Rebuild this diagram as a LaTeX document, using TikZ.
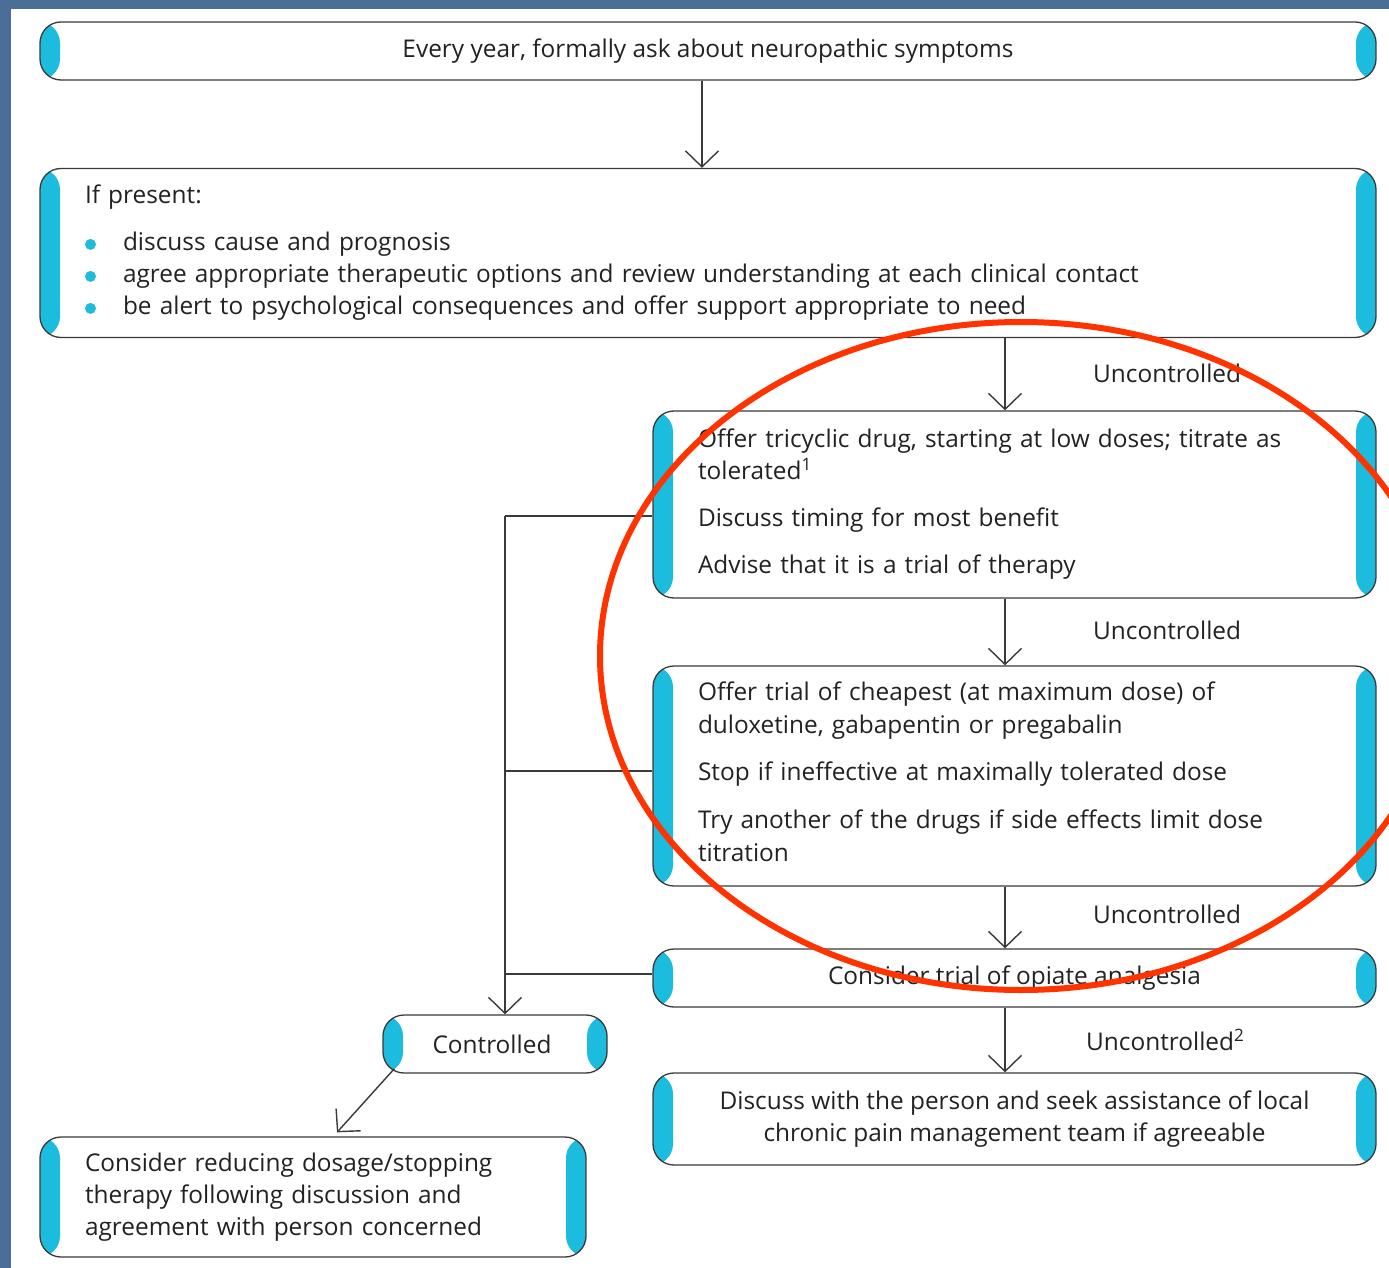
\documentclass[tikz,border=0pt]{standalone}
\usepackage{fontspec}
\setmainfont{Open Sans}
\usetikzlibrary{arrows.meta,calc}
\definecolor{bgblue}{HTML}{4B6E98}
\definecolor{barcol}{HTML}{1BBCDD}
\definecolor{linecol}{HTML}{3A3A3A}
\definecolor{txtcol}{HTML}{222222}
\definecolor{redc}{HTML}{FF3300}
\newcommand{\bul}{\makebox[38pt][l]{\tikz[baseline=0pt,x=1pt,y=1pt]\fill[barcol] (7,6.5) circle[radius=5.5pt];}}
\tikzset{
  box/.style={draw=linecol, line width=1.3pt, fill=white, rounded corners=21pt,
    inner sep=0pt, text=txtcol,
    path picture={
      \fill[barcol] (path picture bounding box.south west) rectangle ([xshift=20pt]path picture bounding box.north west);
      \fill[barcol] (path picture bounding box.south east) rectangle ([xshift=-20pt]path picture bounding box.north east);
    }},
  conn/.style={draw=linecol, line width=1.4pt},
  arr/.style={conn, -{Straight Barb[length=16pt,width=33pt]}},
  lab/.style={anchor=west, inner sep=0pt, text=txtcol},
}
\begin{document}
\begin{tikzpicture}[x=1pt,y=-1pt, font=\fontsize{24.4}{32}\selectfont]
\useasboundingbox (0,0) rectangle (1389,1268);
\fill[bgblue] (0,0) rectangle (1389,1268);
\fill[white] (11,9) rectangle (1389,1268);

\node[box, minimum width=1336pt, minimum height=58pt] (b1) at (708,51)
  {Every year, formally ask about neuropathic symptoms};

\node[box, minimum width=1336pt, minimum height=169pt, text width=1246pt, align=left] (b2) at (708,253)
  {If present:\\[15pt]
   \bul discuss cause and prognosis\\
   \bul agree appropriate therapeutic options and review understanding at each clinical contact\\
   \bul be alert to psychological consequences and offer support appropriate to need};

\node[box, minimum width=723pt, minimum height=187pt, text width=633pt, align=left] (b3) at (1014.5,504.5)
  {Offer tricyclic drug, starting at low doses; titrate as\\
   tolerated\textsuperscript{1}\\[15pt]
   Discuss timing for most benefit\\[15pt]
   Advise that it is a trial of therapy};

\node[box, minimum width=723pt, minimum height=220pt, text width=633pt, align=left,
      font=\fontsize{24.4}{33}\selectfont] (b4) at (1014.5,776)
  {Offer trial of cheapest (at maximum dose) of\\
   duloxetine, gabapentin or pregabalin\\[14pt]
   Stop if ineffective at maximally tolerated dose\\[15pt]
   Try another of the drugs if side effects limit dose\\
   titration\\[-25pt]\mbox{}};

\node[box, minimum width=723pt, minimum height=58pt] (b5) at (1014.5,978)
  {Consider trial of opiate analgesia};

\node[box, minimum width=723pt, minimum height=92pt, align=center] (b6) at (1014.5,1119)
  {Discuss with the person and seek assistance of local\\
   chronic pain management team if agreeable};

\node[box, minimum width=224pt, minimum height=58pt] (ctrl) at (495,1044) {\hspace*{-6pt}Controlled};

\node[box, minimum width=546pt, minimum height=120pt, text width=456pt, align=left] (b7) at (313,1197)
  {Consider reducing dosage/stopping\\
   therapy following discussion and\\
   agreement with person concerned};

% labels
\node[lab] (u1) at (1093,373) {Uncontrolled};
\node[lab] (u2) at (1093,630) {Uncontrolled};
\node[lab] (u3) at (1093,914) {Uncontrolled};
\node[lab] (u4) at (1086,1040) {Uncontrolled\textsuperscript{2}};

% connectors
\draw[arr] ([xshift=-6pt]b1.south) -- ([xshift=-6pt]b2.north);
\draw[arr] ([xshift=297pt]b2.south) -- ([xshift=-9.5pt]b3.north);
\draw[arr] ([xshift=-9.5pt]b3.south) -- ([xshift=-9.5pt]b4.north);
\draw[arr] ([xshift=-9.5pt]b4.south) -- ([xshift=-9.5pt]b5.north);
\draw[arr] ([xshift=-9.5pt]b5.south) -- ([xshift=-9.5pt]b6.north);

\coordinate (bus) at (505,516);
\draw[conn] ([yshift=-11.5pt]b3.west) -- (bus);
\draw[arr] (bus) -- (bus |- ctrl.north);
\draw[conn] ([yshift=5pt]b4.west) -- ++(-148,0);
\draw[conn] ([yshift=4pt]b5.west) -- ++(-148,0);
\draw[arr] ([shift={(12pt,5pt)}]ctrl.south west) -- ([shift={(24pt,4pt)}]b7.north);

% red highlight
\begin{scope}
\clip (0,0) rectangle (1389,1268);
\draw[redc, line width=6pt] (1021,656) ellipse [x radius=421, y radius=334];
\end{scope}
\end{tikzpicture}
\end{document}
